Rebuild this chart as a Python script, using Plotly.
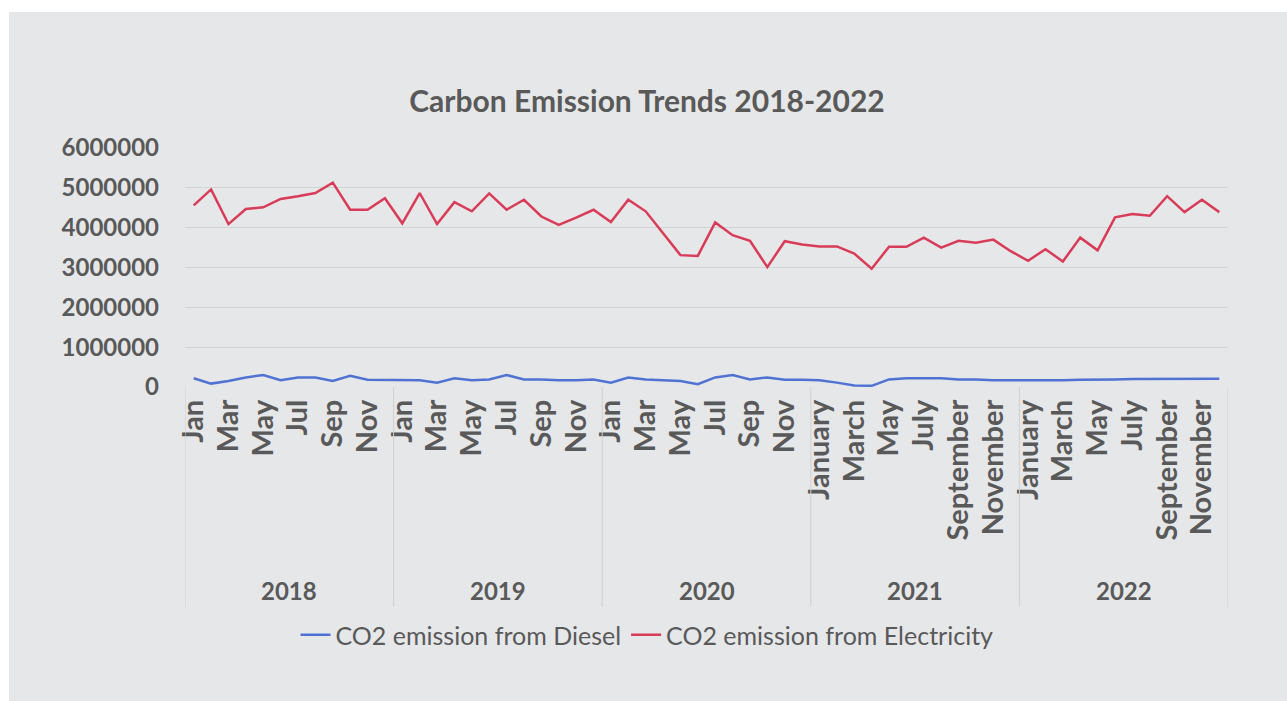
import plotly.graph_objects as go

years = ["2018", "2019", "2020", "2021", "2022"]
short_months = ["Jan", "Feb", "Mar", "Apr", "May", "Jun", "Jul", "Aug", "Sep", "Oct", "Nov", "Dec"]
long_months = ["January", "February", "March", "April", "May", "June", "July",
               "August", "September", "October", "November", "December"]

electricity = {
    "2018": [4560000, 4960000, 4090000, 4470000, 4510000, 4720000, 4790000, 4870000, 5130000, 4450000, 4450000, 4740000],
    "2019": [4110000, 4870000, 4090000, 4640000, 4410000, 4860000, 4450000, 4700000, 4280000, 4070000, 4250000, 4450000],
    "2020": [4140000, 4700000, 4410000, 3860000, 3310000, 3290000, 4130000, 3810000, 3670000, 3010000, 3660000, 3580000],
    "2021": [3530000, 3530000, 3350000, 2970000, 3520000, 3520000, 3750000, 3500000, 3670000, 3620000, 3700000, 3410000],
    "2022": [3170000, 3460000, 3150000, 3750000, 3430000, 4260000, 4340000, 4300000, 4790000, 4390000, 4700000, 4390000],
}
diesel = {
    "2018": [220000, 85000, 150000, 240000, 300000, 170000, 240000, 240000, 150000, 280000, 180000, 180000],
    "2019": [180000, 170000, 110000, 220000, 170000, 190000, 300000, 190000, 190000, 170000, 170000, 190000],
    "2020": [110000, 240000, 190000, 170000, 150000, 70000, 240000, 300000, 190000, 240000, 180000, 180000],
    "2021": [170000, 110000, 40000, 30000, 190000, 220000, 220000, 220000, 190000, 190000, 170000, 170000],
    "2022": [160000, 160000, 170000, 180000, 180000, 190000, 200000, 200000, 200000, 210000, 210000, 210000],
}
yticks = [0, 1000000, 2000000, 3000000, 4000000, 5000000, 6000000]

title = "Carbon Emission Trends 2018-2022"
series_names = ["CO2 emission from Diesel", "CO2 emission from Electricity"]

FONT = "Lato"
TXT = "#595959"
BG = "#e6e7e9"
GRID = "#d2d3d5"

# build flat sequences
x_idx, elec_vals, dies_vals, tickvals, ticktext = [], [], [], [], []
for yi, yr in enumerate(years):
    months = long_months if yr in ("2021", "2022") else short_months
    for mi in range(12):
        i = yi * 12 + mi
        x_idx.append(i)
        elec_vals.append(electricity[yr][mi])
        dies_vals.append(diesel[yr][mi])
        if mi % 2 == 0:
            tickvals.append(i)
            ticktext.append(months[mi])

fig = go.Figure()
fig.add_trace(go.Scatter(x=x_idx, y=dies_vals, mode="lines", name=series_names[0],
                         line=dict(color="#5073d3", width=2.5)))
fig.add_trace(go.Scatter(x=x_idx, y=elec_vals, mode="lines", name=series_names[1],
                         line=dict(color="#d83c58", width=2.5)))

L, R, T, B = 185, 59, 148, 314
W, H = 1287, 701
pw, ph = W - L - R, H - T - B

def px_to_paper_x(px):
    return (px - L) / pw

def px_to_paper_y(py):
    return (H - B - py) / ph

shapes = [
    dict(type="rect", xref="paper", yref="paper",
         x0=px_to_paper_x(9), x1=px_to_paper_x(W + 20),
         y0=px_to_paper_y(H + 20), y1=px_to_paper_y(12),
         fillcolor=BG, line=dict(width=0), layer="below"),
]
for yi in range(len(years) + 1):
    shapes.append(dict(type="line", xref="x", yref="paper",
                       x0=yi * 12 - 0.5, x1=yi * 12 - 0.5,
                       y0=0, y1=px_to_paper_y(607),
                       line=dict(color="#cfd0d2", width=1)))

annotations = []
for yi, yr in enumerate(years):
    annotations.append(dict(x=yi * 12 + 5.5, xref="x", y=px_to_paper_y(590), yref="paper",
                            text=yr, showarrow=False, yanchor="middle",
                            font=dict(family=FONT, size=24, color=TXT, weight="bold")))

fig.update_layout(
    width=W, height=H,
    margin=dict(l=L, r=R, t=T, b=B),
    paper_bgcolor="white",
    plot_bgcolor=BG,
    title=dict(text=title, x=647 / W, xref="container", xanchor="center",
               y=1 - 101 / H, yref="container", yanchor="middle",
               font=dict(family=FONT, size=30, color=TXT, weight="bold")),
    xaxis=dict(range=[-0.5, 59.5], tickmode="array", tickvals=tickvals, ticktext=ticktext,
               tickangle=-90, showgrid=False, zeroline=False, showline=False, ticks="",
               ticklabelstandoff=6,
               tickfont=dict(family=FONT, size=29, color=TXT, weight="bold")),
    yaxis=dict(range=[0, 6000000], tickmode="array", tickvals=yticks,
               ticktext=[str(v) for v in yticks],
               showgrid=True, gridcolor=GRID, gridwidth=1, zeroline=False, showline=False,
               ticks="", ticklabelstandoff=25,
               tickfont=dict(family=FONT, size=24, color=TXT, weight="bold")),
    shapes=shapes,
    annotations=annotations,
    showlegend=True,
    legend=dict(orientation="h", xref="container", yref="container",
                x=647 / W, xanchor="center", y=1 - 635 / H, yanchor="middle",
                itemwidth=30, bgcolor="rgba(0,0,0,0)",
                font=dict(family=FONT, size=25, color=TXT)),
)

fig.write_html("out.html")
